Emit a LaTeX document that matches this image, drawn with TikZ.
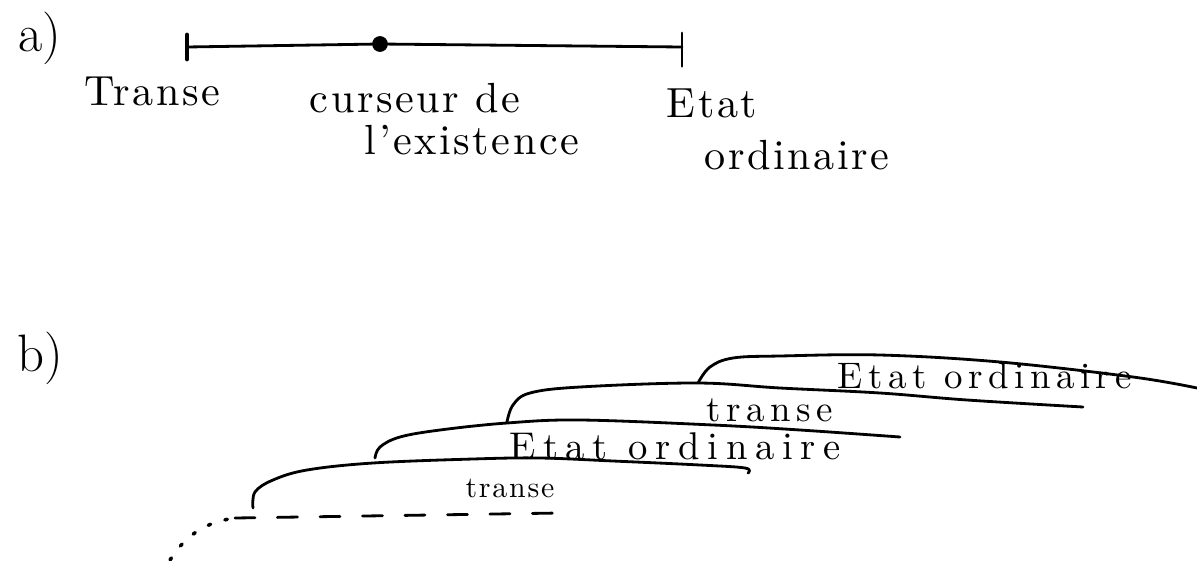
\documentclass[tikz,border=0pt]{standalone}
\usepackage{fontspec}
\usepackage{tikz}

\newfontfamily\handA{lmroman10-regular}[Extension=.otf, Ligatures=TeX, LetterSpace=6]
\newfontfamily\handB{lmroman10-regular}[Extension=.otf, Ligatures=TeX, LetterSpace=15]
\newfontfamily\handC{lmroman10-regular}[Extension=.otf, Ligatures=TeX, LetterSpace=20]

\tikzset{
	hand/.style={font=\handA\fontsize{24}{28}\selectfont, inner sep=0pt},
	handb/.style={font=\handB\fontsize{21}{24}\selectfont, inner sep=0pt},
	trait/.style={line width=1.6pt, line cap=round, line join=round},
	curseur/.style={draw, circle, fill, minimum size=0.3cm, inner sep=0pt}
}

\begin{document}
\begin{tikzpicture}[x=0.02cm, y=-0.02cm]
	\useasboundingbox (0,0) rectangle (1197,561);

	\node[hand, font=\fontsize{30}{32}\selectfont] (partA) at (40,38) {a)};
	\coordinate (transeG) at (187,47);
	\coordinate (etatD) at (682,47);
	\node[curseur] (cur) at (380,44) {};
	\draw[trait] (transeG) -- (cur) -- (etatD);
	\draw[trait, line width=2.4pt] ([yshift=7pt]transeG) -- ([yshift=-7pt]transeG);
	\draw[trait] ([yshift=8pt]etatD) -- ([yshift=-11pt]etatD);
	\node[hand] (transe) at (152,91) {Transe};
	\node[hand] (curseurde) at (415,98) {curseur de};
	\node[hand] (existence) at (472,140) {l'existence};
	\node[hand] (etat) at (712,103) {Etat};
	\node[hand] (ordinaire) at (797,155) {ordinaire};

	\node[hand, font=\fontsize{30}{32}\selectfont] (partB) at (40,358) {b)};
	\coordinate (crochetA) at (253,508);
	\coordinate (crochetB) at (375,458);
	\coordinate (crochetC) at (507,422);
	\coordinate (crochetD) at (698,383);
	\coordinate (debut) at (170,560);
	\coordinate (pointille) at (235,518);
	\coordinate (fin) at (560,513);
	\draw[trait, line width=2pt, dash pattern=on 0.05cm off 0.3cm] (debut) .. controls (185,536) and (205,522) .. (pointille);
	\draw[trait, dash pattern=on 0.4cm off 0.45cm] (pointille) -- (fin);
	\draw[trait] plot[smooth, tension=0.6] coordinates {(crochetA) (255,492) (273,480) (307,470) (373,463) (473,459) (540,458) (613,461) (700,465) (745,468) (748,473)};
	\draw[trait] plot[smooth, tension=0.6] coordinates {(crochetB) (380,447) (400,437) (440,430) (507,423) (580,420) (713,425) (800,430) (900,437)};
	\draw[trait] plot[smooth, tension=0.6] coordinates {(crochetC) (513,405) (530,393) (580,387) (697,383) (780,388) (880,393) (967,400) (1083,407)};
	\draw[trait] plot[smooth, tension=0.6] coordinates {(crochetD) (710,367) (733,358) (780,356) (880,355) (1000,362) (1133,377) (1197,388)};
	\node[handb, font=\handA\fontsize{17}{20}\selectfont] (transeB) at (510,488) {transe};
	\node[handb, font=\handC\fontsize{22}{24}\selectfont] (etatB) at (675,446) {Etat ordinaire};
	\node[handb] (transeC) at (770,410) {transe};
	\node[handb] (etatC) at (985,376) {Etat ordinaire};
\end{tikzpicture}
\end{document}
